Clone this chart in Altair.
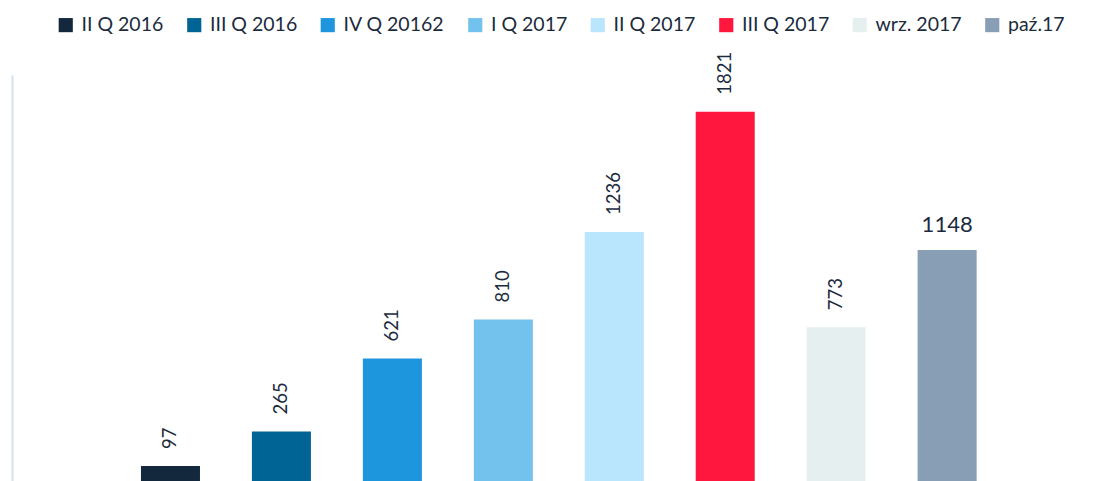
import altair as alt
import pandas as pd

categories = ["II Q 2016", "III Q 2016", "IV Q 20162", "I Q 2017", "II Q 2017",
              "III Q 2017", "wrz. 2017", "paź.17"]
values = [97, 265, 621, 810, 1236, 1821, 773, 1148]
colors = ["#13283C", "#006494", "#1D96DE", "#73C2EE", "#B9E6FC",
          "#FF173E", "#E6EFF0", "#879EB5"]
horizontal_label = "paź.17"

df = pd.DataFrame({"cat": categories, "val": values})

FONT = "Lato"
TXT = "#1B2B3D"

x = alt.X("cat:N", sort=categories, axis=None,
          scale=alt.Scale(paddingInner=0.468, paddingOuter=1, range=[18, 1075.6]))
y = alt.Y("val:Q", axis=alt.Axis(labels=False, ticks=False, grid=False, title=None,
                                 domainColor="#D4E2F0", domainWidth=2),
          scale=alt.Scale(domain=[0, 2000], range=[411, 0], nice=False))

bars = alt.Chart(df).mark_bar().encode(
    x=x, y=y,
    color=alt.Color("cat:N", sort=categories,
                    scale=alt.Scale(domain=categories, range=colors),
                    legend=alt.Legend(orient="none", legendX=44, legendY=-60,
                                      direction="horizontal", title=None,
                                      padding=0,
                                      symbolType="square", symbolSize=200,
                                      symbolStrokeWidth=0, labelFontSize=19.5,
                                      labelFont=FONT, labelColor=TXT,
                                      labelOffset=6, columnPadding=20.5,
                                      columns=8, labelLimit=300)),
)

rot = alt.Chart(df).transform_filter(
    alt.datum.cat != horizontal_label
).mark_text(angle=270, align="left", baseline="middle", dx=17,
            font=FONT, fontSize=18.5, color=TXT).encode(
    x=x, y=y, text=alt.Text("val:Q"))

hor = alt.Chart(df).transform_filter(
    alt.datum.cat == horizontal_label
).mark_text(align="center", baseline="alphabetic", dy=-18,
            font=FONT, fontSize=22, color=TXT).encode(
    x=x, y=y, text=alt.Text("val:Q"))

chart = alt.layer(bars, rot, hor).properties(
    width=1082, height=406,
    padding={"left": 12, "top": 75, "right": 0, "bottom": 0},
    autosize=alt.AutoSizeParams(type="none"),
).configure_view(stroke=None)

chart.save("out.html", embed_options={"renderer": "svg", "actions": False})
